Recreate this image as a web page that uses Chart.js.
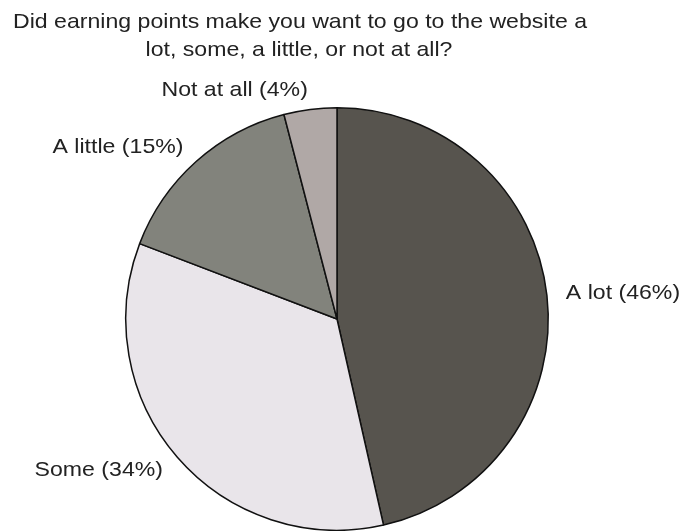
<!DOCTYPE html>
<html>
<head>
<meta charset="utf-8">
<script src="https://cdn.jsdelivr.net/npm/chart.js@4.4.1/dist/chart.umd.min.js"></script>
<style>
  html, body { margin: 0; padding: 0; background: #fff; }
  #wrap { width: 683px; height: 531px; }
</style>
</head>
<body>
<div id="wrap"><canvas id="pie" width="683" height="531"></canvas></div>
<script>
// survey answers
var categories = ["A lot", "Some", "A little", "Not at all"];
var percents = [46, 34, 15, 4];
var sliceColors = ["#57544e", "#e9e5ea", "#82837c", "#b0a8a6"];
var titleLines = [
  "Did earning points make you want to go to the website a",
  "lot, some, a little, or not at all?"
];

var FONT = '21px "Liberation Sans", Arial, sans-serif';
var STRETCH = 1.1; // original text is a bit wide

function wideText(ctx, txt, x, y) {
  ctx.save();
  ctx.translate(x, y);
  ctx.scale(STRETCH, 1);
  ctx.fillText(txt, 0, 0);
  ctx.restore();
}

// title sits left of centre in the original, so draw it ourselves
const titlePlugin = {
  id: "titleText",
  afterDraw(chart) {
    const ctx = chart.ctx;
    ctx.save();
    ctx.font = FONT;
    ctx.fillStyle = "#222";
    ctx.textAlign = "center";
    ctx.textBaseline = "middle";
    wideText(ctx, titleLines[0], 300, 22);
    wideText(ctx, titleLines[1], 299, 50);
    ctx.restore();
  }
};

// outside labels "Name (nn%)"
const outsideLabels = {
  id: "outsideLabels",
  afterDraw(chart) {
    const ctx = chart.ctx;
    const meta = chart.getDatasetMeta(0);
    ctx.save();
    ctx.font = FONT;
    ctx.fillStyle = "#222";
    ctx.textBaseline = "middle";
    meta.data.forEach(function (arc, i) {
      const p = arc.getProps(["x", "y", "startAngle", "endAngle", "outerRadius"], true);
      const mid = (p.startAngle + p.endAngle) / 2;
      const r = p.outerRadius + 19;
      const x = p.x + Math.cos(mid) * r;
      const y = p.y + Math.sin(mid) * r;
      ctx.textAlign = Math.cos(mid) >= 0 ? "left" : "right";
      wideText(ctx, categories[i] + " (" + percents[i] + "%)", x, y);
    });
    ctx.restore();
  }
};

new Chart(document.getElementById("pie"), {
  type: "pie",
  data: {
    labels: categories,
    datasets: [{
      data: percents,
      backgroundColor: sliceColors,
      borderColor: "#111",
      borderWidth: 1.5
    }]
  },
  options: {
    responsive: false,
    animation: false,
    layout: { padding: { top: 107, bottom: 0, left: 0, right: 9 } },
    plugins: {
      legend: { display: false },
      tooltip: { enabled: false },
      title: { display: false }
    }
  },
  plugins: [titlePlugin, outsideLabels]
});
</script>
</body>
</html>
